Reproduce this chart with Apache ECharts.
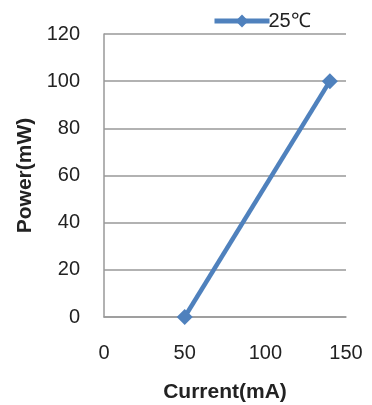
<!DOCTYPE html>
<html><head><meta charset="utf-8">
<script src="https://cdn.jsdelivr.net/npm/echarts@6/dist/echarts.min.js"></script>
<style>html,body{margin:0;padding:0;background:#fff}#c{width:372px;height:405px}</style>
</head><body><div id="c"></div>
<script>
const seriesName = '25℃';
const currentMA = [50, 140];
const powerMW = [0, 100];
const xTicks = [0, 50, 100, 150];
const yTicks = [0, 20, 40, 60, 80, 100, 120];

const chart = echarts.init(document.getElementById('c'));
const font = 'Liberation Sans';
chart.setOption({
  animation: false,
  backgroundColor: '#fff',
  textStyle: { fontFamily: font },
  legend: {
    data: [seriesName],
    left: 207, top: 6,
    itemWidth: 55, itemHeight: 16, itemGap: 4,
    lineStyle: { width: 5, color: '#4F81BD' },
    itemStyle: { color: '#4F81BD' },
    textStyle: { fontFamily: font, fontSize: 20, color: '#222', padding: [0,0,0,-6] }
  },
  grid: { left: 104, right: 26, top: 34, bottom: 88, containLabel: false, outerBoundsMode: 'none' },
  xAxis: {
    type: 'value', min: xTicks[0], max: xTicks[xTicks.length-1], interval: 50,
    name: 'Current(mA)', nameLocation: 'middle', nameGap: 65,
    nameTextStyle: { fontFamily: font, fontSize: 21, fontWeight: 'bold', color: '#222' },
    axisLine: { show: true, lineStyle: { color: '#999', width: 1.5 } },
    axisTick: { show: false },
    axisLabel: { fontFamily: font, fontSize: 20, color: '#222', margin: 26 },
    splitLine: { show: false }
  },
  yAxis: {
    type: 'value', min: yTicks[0], max: yTicks[yTicks.length-1], interval: 20,
    name: 'Power(mW)', nameLocation: 'middle', nameGap: 68, nameRotate: 90,
    nameTextStyle: { fontFamily: font, fontSize: 21, fontWeight: 'bold', color: '#222' },
    axisLine: { show: true, lineStyle: { color: '#999', width: 1.5 } },
    axisTick: { show: false },
    axisLabel: { fontFamily: font, fontSize: 20, color: '#222', margin: 24 },
    splitLine: { show: true, lineStyle: { color: '#999', width: 1.5 } }
  },
  series: [{
    name: seriesName, type: 'line',
    data: currentMA.map((x, i) => [x, powerMW[i]]),
    symbol: 'diamond', symbolSize: 16,
    lineStyle: { color: '#4F81BD', width: 4.5 },
    itemStyle: { color: '#4F81BD' }
  }]
});
</script></body></html>
